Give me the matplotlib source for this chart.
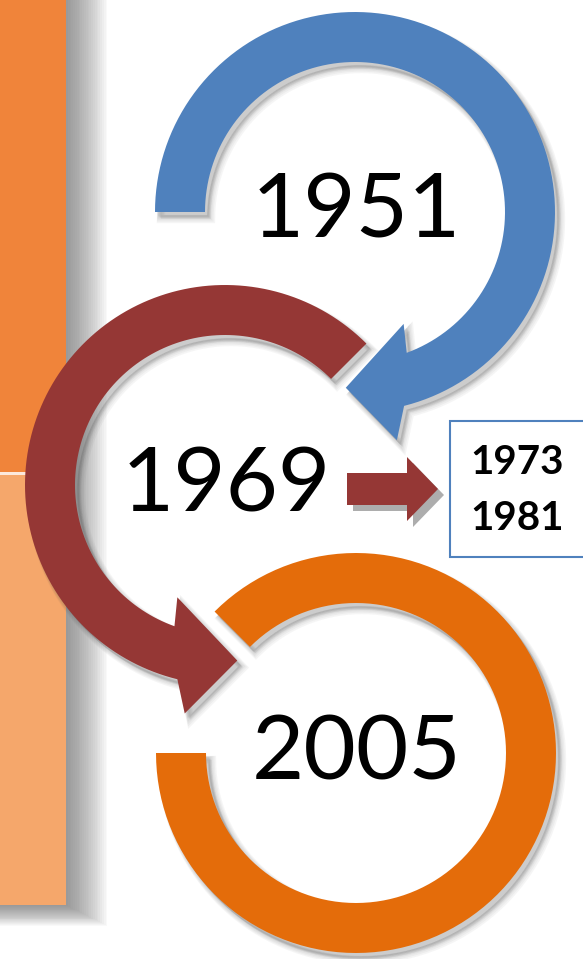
import matplotlib
matplotlib.use('agg')
import matplotlib.pyplot as plt
from matplotlib.patches import Polygon, Rectangle
import numpy as np

# years shown on the timeline
years_main = ['1951', '1969', '2005']
years_side = ['1973', '1981']

# ring geometry in pixel space: (cx, cy), visual angles (0 = right, 90 = down)
centers = [(355, 212), (225, 485), (356, 753)]
colors = ['#4F81BD', '#953735', '#E46C0A']
R_IN, R_OUT = 150, 200

W, H = 583, 959
fig = plt.figure(figsize=(W / 100, H / 100), dpi=100)
ax = fig.add_axes([0, 0, 1, 1])
ax.set_xlim(0, W)
ax.set_ylim(H, 0)
ax.axis('off')


def pt(c, r, a):
    a = np.radians(a)
    return (c[0] + r * np.cos(a), c[1] + r * np.sin(a))


def arc(c, r, a0, a1, n=120):
    return [pt(c, r, a) for a in np.linspace(a0, a1, n)]


def ring(c, a0, a1, head=None):
    # head = (inner barb angle, outer barb angle, tip angle)
    if head is None:
        return arc(c, R_OUT, a0, a1) + arc(c, R_IN, a1, a0)
    ai, ao, at = head
    ang = lambda r: ai + (r - 122) / 110 * (ao - ai)
    pts = arc(c, R_OUT, a0, ang(R_OUT))
    pts += [pt(c, 232, ao), pt(c, 176, at), pt(c, 122, ai)]
    pts += arc(c, R_IN, ang(R_IN), a0)
    return pts


def shadow(pts, z, dx=3, dy=4):
    for k in range(6):
        p = [(x + dx + k * 0.6, y + dy + k * 0.6) for x, y in pts]
        ax.add_patch(Polygon(p, closed=True, facecolor='0.3', edgecolor='0.3',
                             lw=k * 1.2, alpha=0.05, zorder=z))


# left orange panel with soft shadow
for i in range(24):
    ax.add_patch(Rectangle((0, -5), 66 + i * 1.8, 910 + i * 0.9,
                           facecolor='0.35', edgecolor='none', alpha=0.035, zorder=1))
ax.add_patch(Rectangle((0, 471), 66, 5, facecolor='#FCE9DC', edgecolor='none', zorder=2))
ax.add_patch(Rectangle((0, 0), 66, 472, facecolor='#F0843A', edgecolor='none', zorder=2))
ax.add_patch(Rectangle((0, 475), 66, 430, facecolor='#F5A76B', edgecolor='none', zorder=2))

shapes = [
    ring(centers[0], 180, 360 + 66.5, head=(360 + 66.5, 360 + 79.6, 360 + 93)),
    ring(centers[1], 315, 113, head=(113, 100, 86)),
    ring(centers[2], 225, 540),
]
order = [2, 0, 1]
for z, i in enumerate(order):
    shadow(shapes[i], 3 + 2 * z)
    ax.add_patch(Polygon(shapes[i], closed=True, facecolor=colors[i],
                         edgecolor='none', zorder=4 + 2 * z))

# year labels
for (cx, cy), yr in zip(centers, years_main):
    ax.text(cx + 1, cy + 1, yr, fontsize=65, family='Lato', color='black',
            ha='center', va='center', zorder=20)

# small red arrow to the side box
arrow = [(347, 473), (407, 473), (407, 457), (438, 489), (407, 521), (407, 505), (347, 505)]
ax.add_patch(Polygon([(x + 6, y + 6) for x, y in arrow], closed=True,
                     facecolor='0.68', edgecolor='none', zorder=15))
ax.add_patch(Polygon(arrow, closed=True, facecolor=colors[1], edgecolor='none', zorder=16))

# side box
ax.add_patch(Rectangle((450, 421), 140, 136, facecolor='white',
                       edgecolor=colors[0], lw=1.5, zorder=17))
for k, yr in enumerate(years_side):
    ax.text(470, 463 + k * 55, yr, fontsize=29, family='Lato', weight='bold',
            color='black', ha='left', va='center', zorder=20)

fig.savefig('out.png', dpi=100)
